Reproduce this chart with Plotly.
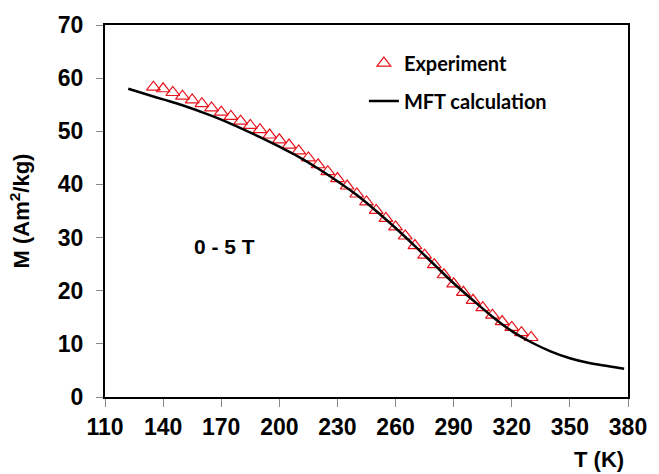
import plotly.graph_objects as go

# Experimental data (T in K, M in Am^2/kg)
exp_T = [135, 140, 145, 150, 155, 160, 165, 170, 175, 180, 185, 190, 195, 200,
         205, 210, 215, 220, 225, 230, 235, 240, 245, 250, 255, 260, 265, 270,
         275, 280, 285, 290, 295, 300, 305, 310, 315, 320, 325, 330]
exp_M = [58.3, 58.0, 57.3, 56.6, 55.9, 55.2, 54.4, 53.6, 52.8, 51.9, 51.1, 50.3,
         49.3, 48.4, 47.4, 46.3, 45.0, 43.7, 42.4, 41.1, 39.7, 38.2, 36.7, 35.1,
         33.6, 32.0, 30.3, 28.5, 26.7, 24.9, 23.0, 21.3, 19.7, 18.2, 16.8, 15.4,
         14.2, 13.1, 12.1, 11.2]

# MFT calculation curve
mft_T = [122, 130, 140, 150, 160, 170, 180, 190, 200, 210, 220, 230, 240, 250,
         260, 270, 280, 290, 300, 310, 320, 330, 340, 350, 360, 370, 378]
mft_M = [58.0, 57.1, 56.0, 54.9, 53.6, 52.2, 50.6, 48.9, 47.1, 45.2, 43.0, 40.6,
         38.0, 35.0, 31.8, 28.4, 24.9, 21.4, 18.2, 15.1, 12.4, 10.3, 8.6, 7.3,
         6.4, 5.8, 5.3]

x_ticks = [110, 140, 170, 200, 230, 260, 290, 320, 350, 380]
y_ticks = [0, 10, 20, 30, 40, 50, 60, 70]

fig = go.Figure()
fig.add_trace(go.Scatter(
    x=exp_T, y=exp_M, mode="markers", name="Experiment", legendgroup="a",
    marker=dict(symbol="triangle-up-open", size=12, color="#e8141c",
                line=dict(width=1.2, color="#e8141c")),
))
fig.add_trace(go.Scatter(
    x=mft_T, y=mft_M, mode="lines", name="MFT calculation", legendgroup="b",
    line=dict(color="black", width=2.5, shape="spline"),
))

axis_font = dict(family="Liberation Sans", size=23, color="black", weight="bold")
title_font = dict(family="Liberation Sans", size=22, color="black", weight="bold")

fig.update_layout(
    width=659, height=474,
    margin=dict(l=105, r=21, t=18, b=77),
    paper_bgcolor="white", plot_bgcolor="white",
    showlegend=True,
    legend=dict(
        x=0.495, y=0.95, xanchor="left", yanchor="top",
        bgcolor="rgba(0,0,0,0)",
        font=dict(family="Lato", size=20, color="black", weight="bold"),
        tracegroupgap=9, traceorder="grouped",
        itemwidth=30,
    ),
    xaxis=dict(
        range=[110, 380], tickmode="array", tickvals=x_ticks,
        ticks="outside", ticklen=8, tickcolor="#888888", tickwidth=1,
        ticklabelstandoff=0,
        showline=True, linecolor="black", linewidth=2, mirror=True,
        showgrid=False, zeroline=False, tickfont=axis_font,
    ),
    yaxis=dict(
        range=[0, 70], tickmode="array", tickvals=y_ticks,
        ticks="outside", ticklen=7, tickcolor="#888888", tickwidth=1,
        ticklabelstandoff=8,
        showline=True, linecolor="black", linewidth=2, mirror=True,
        showgrid=False, zeroline=False, tickfont=axis_font,
        title=dict(text="M (Am<sup>2</sup>/kg)", font=title_font, standoff=22),
    ),
    annotations=[
        dict(text="T (K)", xref="paper", yref="paper", x=0.996, y=-0.13,
             xanchor="right", yanchor="top", showarrow=False, font=title_font),
        dict(text="0 - 5 T", xref="x", yref="y", x=155, y=28.4,
             xanchor="left", yanchor="middle", showarrow=False,
             font=dict(family="Liberation Sans", size=21, color="black", weight="bold")),
    ],
)

fig.write_html("out.html")
